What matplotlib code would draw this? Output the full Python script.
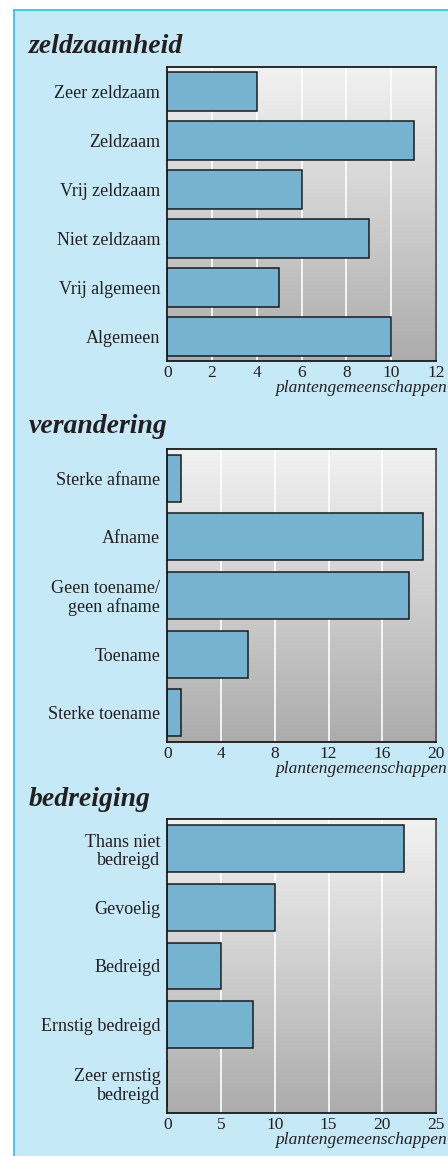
import numpy as np
import matplotlib
matplotlib.use("Agg")
import matplotlib.pyplot as plt
from matplotlib.lines import Line2D
from matplotlib.patches import Rectangle

# data
zeld_labels = ["Zeer zeldzaam", "Zeldzaam", "Vrij zeldzaam", "Niet zeldzaam",
               "Vrij algemeen", "Algemeen"]
zeld_values = [4, 11, 6, 9, 5, 10]
zeld_ticks = [0, 2, 4, 6, 8, 10, 12]

ver_labels = ["Sterke afname", "Afname", "Geen toename/\ngeen afname",
              "Toename", "Sterke toename"]
ver_values = [1, 19, 18, 6, 1]
ver_ticks = [0, 4, 8, 12, 16, 20]

bed_labels = ["Thans niet\nbedreigd", "Gevoelig", "Bedreigd",
              "Ernstig bedreigd", "Zeer ernstig\nbedreigd"]
bed_values = [22, 10, 5, 8, 0]
bed_ticks = [0, 5, 10, 15, 20, 25]

xlabel = "plantengemeenschappen"
panel_titles = ["zeldzaamheid", "verandering", "bedreiging"]

W, H = 448, 1156
BG = "#c6e9f8"
BORDER = "#22c0f2"
BAR = "#76b3d0"
TXT = "#231f20"
SERIF = ["Liberation Serif", "DejaVu Serif"]

plt.rcParams["font.family"] = SERIF

fig = plt.figure(figsize=(W / 100, H / 100), dpi=100)
fig.patch.set_facecolor("white")

# light blue panel with cyan border on left and top
fig.patches.append(Rectangle((14 / W, 0), 1, 1 - 10 / H, transform=fig.transFigure,
                             facecolor=BG, edgecolor="none", zorder=-5))
fig.lines.append(Line2D([14 / W, 14 / W], [0, 1 - 10 / H], transform=fig.transFigure,
                        color=BORDER, lw=1.2, zorder=-4))
fig.lines.append(Line2D([14 / W, 1], [1 - 10 / H, 1 - 10 / H], transform=fig.transFigure,
                        color=BORDER, lw=1.2, zorder=-4))

# panel layout in pixels: (axes top, axes bottom, title baseline)
panels = [
    (zeld_labels, zeld_values, zeld_ticks, 67.3, 360.7, 53),
    (ver_labels, ver_values, ver_ticks, 448.7, 742.3, 433),
    (bed_labels, bed_values, bed_ticks, 819.3, 1112.7, 806),
]

grad = np.linspace(0, 1, 256).reshape(-1, 1)
cmap = matplotlib.colors.LinearSegmentedColormap.from_list("g", ["#f2f2f2", "#acacac"])

left, right = 167.3, 436.0
for (labels, values, ticks, top, bottom, tbase), title in zip(panels, panel_titles):
    ax = fig.add_axes([left / W, 1 - bottom / H, (right - left) / W, (bottom - top) / H])
    n = len(labels)
    ax.imshow(grad, cmap=cmap, aspect="auto", extent=[0, 1, 0, 1],
              transform=ax.transAxes, zorder=0, interpolation="bilinear")
    y = np.arange(n)
    ax.barh(y, values, height=0.8, color=BAR, edgecolor="#1a1a1a", linewidth=1.1, zorder=3)
    ax.set_xlim(ticks[0], ticks[-1])
    ax.set_ylim(n - 0.5, -0.5)
    ax.set_xticks(ticks)
    ax.set_xticklabels([str(t) for t in ticks])
    ax.set_yticks(y)
    ax.set_yticklabels(labels, multialignment="right", linespacing=1.1)
    ax.grid(axis="x", color="white", lw=1.2, zorder=1)
    ax.set_axisbelow(True)
    ax.tick_params(length=0, labelsize=13, labelcolor=TXT)
    ax.tick_params(axis="x", labelsize=12.5, pad=3)
    ax.tick_params(axis="y", pad=5)
    for s in ax.spines.values():
        s.set_color("#1a1a1a")
        s.set_linewidth(1.3)
        s.set_zorder(5)
    ax.spines["right"].set_color("#505050")

    fig.text(29 / W, 1 - tbase / H, title, fontsize=20, fontweight="bold",
             fontstyle="italic", color=TXT, ha="left", va="baseline")
    fig.text(447 / W, 1 - (bottom + 31) / H, xlabel, fontsize=12.5,
             fontstyle="italic", color=TXT, ha="right", va="baseline")

fig.savefig("out.png", dpi=100, facecolor=fig.get_facecolor())
